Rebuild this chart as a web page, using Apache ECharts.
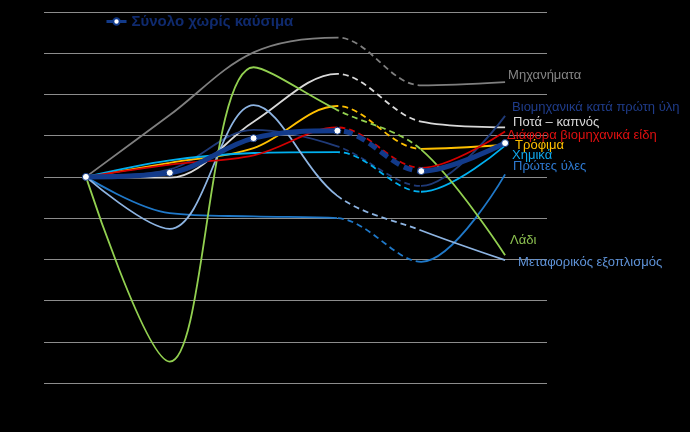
<!DOCTYPE html>
<html><head><meta charset="utf-8">
<script src="https://cdn.jsdelivr.net/npm/echarts@6/dist/echarts.min.js"></script>
<style>html,body{margin:0;padding:0;background:#000}#c{width:690px;height:432px}</style>
</head><body><div id="c"></div>
<script>
// ---- data (index values) ----
const categories = ['1', '2', '3', '4', '5', '6'];
const totalNoFuel = [100, 100.5, 104.7, 105.6, 100.7, 104.1];
const machinery = [100, 107.5, 115.1, 116.9, 111.1, 111.5];
const drinksTobacco = [100, 99.9, 106.7, 112.5, 106.7, 106.0];
const industrialByMaterial = [100, 100.9, 105.7, 103.7, 98.9, 107.4];
const miscIndustrial = [100, 101.5, 102.6, 106.0, 101.1, 105.5];
const food = [100, 101.7, 103.5, 108.6, 103.4, 103.9];
const chemicals = [100, 102.0, 102.9, 103.0, 98.2, 103.8];
const rawMaterials = [100, 95.6, 95.2, 95.0, 89.7, 100.3];
const oil = [100, 77.6, 113.3, 108.1, 103.3, 90.5];
const transport = [100, 93.7, 108.7, 97.7, 93.5, 89.9];
const yMin = 75, yMax = 120, yStep = 5;
const totalName = 'Σύνολο χωρίς καύσιμα';

const FONT = 'Liberation Sans, Arial, sans-serif';
const SMOOTH = 0.35;
const lines = [
  {name: 'Μηχανήματα', data: machinery, color: '#7f7f7f', lc: '#858585', dx: -2, dy: -7},
  {name: 'Ποτά – καπνός', data: drinksTobacco, color: '#d9d9d9', lc: '#d9d9d9', dx: 3, dy: -5},
  {name: 'Βιομηχανικά κατά πρώτη ύλη', data: industrialByMaterial, color: '#1f3a78', lc: '#1f3c8a', dx: 2, dy: -8},
  {name: 'Τρόφιμα', data: food, color: '#ffc000', lc: '#ffc000', dx: 5, dy: 1},
  {name: 'Χημικά', data: chemicals, color: '#00b0f0', lc: '#10a8ec', dx: 2, dy: 10},
  {name: 'Πρώτες ύλες', data: rawMaterials, color: '#1f78c8', lc: '#2e7ad2', dx: 3, dy: -8},
  {name: 'Λάδι', data: oil, color: '#92d050', lc: '#8cc050', dx: 0, dy: -15},
  {name: 'Μεταφορικός εξοπλισμός', data: transport, color: '#8db4e2', lc: '#5f93d8', dx: 8, dy: 2},
  {name: 'Διάφορα βιομηχανικά είδη', data: miscIndustrial, color: '#d40000', lc: '#e01010', dx: -3, dy: 4},
  {name: '_total', data: totalNoFuel, color: '#123a8a', width: 5, noLabel: true}
];

const series = [];
const visualMap = [];
const CLEAR = 'rgba(0,0,0,0)';
lines.forEach(l => {
  const w = l.width || 1.8;
  series.push({
    type: 'line', name: l.name + '_s', data: l.data, smooth: SMOOTH, symbol: 'none',
    lineStyle: {width: w}, silent: true,
    endLabel: l.noLabel ? {show: false} : {show: true, formatter: l.name, color: l.lc, fontSize: 13,
      fontFamily: FONT, distance: 5, offset: [l.dx, l.dy]}
  });
  visualMap.push({show: false, seriesIndex: series.length - 1, dimension: 0,
    pieces: [{lte: 3, color: l.color}, {gt: 3, lte: 4, color: CLEAR}, {gt: 4, color: l.color}]});
  series.push({
    type: 'line', name: l.name + '_d', data: l.data, smooth: SMOOTH, symbol: 'none', silent: true,
    lineStyle: {width: w, type: l.width ? [9, 5] : [6, 4]}
  });
  visualMap.push({show: false, seriesIndex: series.length - 1, dimension: 0,
    pieces: [{lte: 3, color: CLEAR}, {gt: 3, lte: 4, color: l.color}, {gt: 4, color: CLEAR}]});
});
series.push({
  type: 'line', name: totalName, data: totalNoFuel, symbol: 'circle', symbolSize: 7, showAllSymbol: true,
  itemStyle: {color: '#ffffff', borderColor: '#123a8a', borderWidth: 1},
  lineStyle: {opacity: 0}, silent: true, z: 5
});

const chart = echarts.init(document.getElementById('c'), null, {renderer: 'canvas'});
chart.setOption({
  backgroundColor: '#000',
  animation: false,
  grid: {left: 44, right: 143, top: 12, bottom: 49, containLabel: false},
  legend: {
    show: true, left: 105, top: 14, padding: 0, itemWidth: 20, itemHeight: 8, itemGap: 4,
    data: [{name: totalName, itemStyle: {color: '#ffffff'},
            lineStyle: {color: '#123a8a', width: 3, opacity: 1}}],
    textStyle: {color: '#0f2a6e', fontWeight: 'bold', fontSize: 15, fontFamily: FONT}
  },
  visualMap: visualMap,
  xAxis: {type: 'category', data: categories, boundaryGap: true,
    axisLine: {show: false}, axisTick: {show: false}, axisLabel: {show: false}},
  yAxis: {type: 'value', min: yMin, max: yMax, interval: yStep,
    axisLine: {show: false}, axisTick: {show: false}, axisLabel: {show: false},
    splitLine: {lineStyle: {color: '#8c8c8c', width: 1}}},
  series: series
});
</script>
</body></html>
